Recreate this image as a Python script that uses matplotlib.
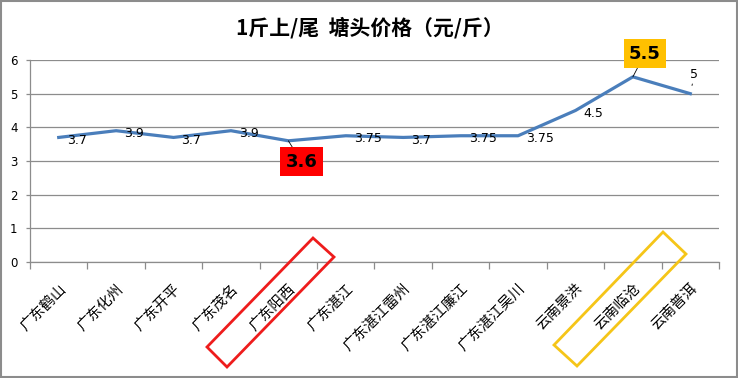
import numpy as np
import matplotlib
matplotlib.use('Agg')
import matplotlib.pyplot as plt
from matplotlib.patches import Polygon, Rectangle

plt.rcParams['font.family'] = ['Noto Sans CJK SC', 'DejaVu Sans']

# data
places = ['广东鹤山', '广东化州', '广东开平', '广东茂名', '广东阳西', '广东湛江',
          '广东湛江雷州', '广东湛江廉江', '广东湛江吴川', '云南景洪', '云南临沧', '云南普洱']
prices = [3.7, 3.9, 3.7, 3.9, 3.6, 3.75, 3.7, 3.75, 3.75, 4.5, 5.5, 5]
price_labels = ['3.7', '3.9', '3.7', '3.9', '3.6', '3.75', '3.7', '3.75', '3.75', '4.5', '5.5', '5']
title = '1斤上/尾  塘头价格（元/斤）'

W, H = 738, 378
fig = plt.figure(figsize=(W / 100, H / 100), dpi=100)
ax = fig.add_axes([30 / W, 1 - 262 / H, (719 - 30) / W, (262 - 60) / H])

x = np.arange(len(places))
ax.plot(x, prices, color='#4a7ebb', lw=2.3, solid_joinstyle='round')

ax.set_xlim(-0.5, len(places) - 0.5)
ax.set_ylim(0, 6)
ax.set_yticks(range(0, 7))
ax.yaxis.grid(True, color='#8c8c8c', lw=0.9)
ax.set_axisbelow(True)
for s in ['top', 'right']:
    ax.spines[s].set_visible(False)
for s in ['left', 'bottom']:
    ax.spines[s].set_color('#8c8c8c')
    ax.spines[s].set_linewidth(0.9)

# ticks between categories, labels at centres
ax.set_xticks(np.arange(-0.5, len(places)), minor=False)
ax.set_xticklabels([])
ax.set_xticks(x, minor=True)
ax.set_xticklabels(places, minor=True, rotation=45, ha='right', va='top',
                   rotation_mode='anchor', fontsize=10.5)
ax.tick_params(axis='x', which='major', length=5, color='#8c8c8c', width=0.9)
ax.tick_params(axis='x', which='minor', length=0, pad=14)
ax.tick_params(axis='y', length=3, color='#8c8c8c', width=0.9, labelsize=8.5, pad=6)
for t in ax.get_yticklabels():
    t.set_family('DejaVu Sans')

# data labels
for i, (v, lab) in enumerate(zip(prices, price_labels)):
    if i == 4:
        ax.annotate(lab, (i, v), xytext=(13, -21), textcoords='offset pixels',
                    ha='center', va='center', fontsize=13, fontweight='bold',
                    family='DejaVu Sans',
                    bbox=dict(boxstyle='square,pad=0.3', fc='#ff0000', ec='none'),
                    arrowprops=dict(arrowstyle='-', color='black', lw=0.6,
                                    shrinkA=0, shrinkB=0))
    elif i == 10:
        ax.annotate(lab, (i, v), xytext=(12, 23), textcoords='offset pixels',
                    ha='center', va='center', fontsize=13, fontweight='bold',
                    family='DejaVu Sans',
                    bbox=dict(boxstyle='square,pad=0.3', fc='#ffc000', ec='none'),
                    arrowprops=dict(arrowstyle='-', color='black', lw=0.6,
                                    shrinkA=0, shrinkB=0))
    elif i == 11:
        ax.annotate(lab, (i, v), xytext=(4, 19), textcoords='offset pixels',
                    ha='center', va='center', fontsize=9, family='DejaVu Sans',
                    arrowprops=dict(arrowstyle='-', color='black', lw=0.6,
                                    shrinkA=0, shrinkB=6))
    else:
        ax.annotate(lab, (i, v), xytext=(8, -3), textcoords='offset pixels',
                    ha='left', va='center', fontsize=9, family='DejaVu Sans')

fig.text(370 / W, 1 - 28 / H, title, ha='center', va='center',
         fontsize=15, fontweight='bold')

# highlight boxes around axis labels
def px(pts):
    return [(a / W, 1 - b / H) for a, b in pts]

red_box = [(207, 347), (227, 367), (334, 257), (313, 238)]
gold_box = [(554, 345), (577, 366), (686, 254), (663, 232)]
fig.patches.append(Polygon(px(red_box), closed=True, fill=False, ec='#ee1c1c',
                           lw=2.0, transform=fig.transFigure))
fig.patches.append(Polygon(px(gold_box), closed=True, fill=False, ec='#f5c518',
                           lw=2.0, transform=fig.transFigure))

# outer frame
fig.patches.append(Rectangle((0.001, 0.002), 0.997, 0.995, fill=False,
                             ec='#8c8c8c', lw=1.5, transform=fig.transFigure))

fig.savefig('out.png', dpi=100)
